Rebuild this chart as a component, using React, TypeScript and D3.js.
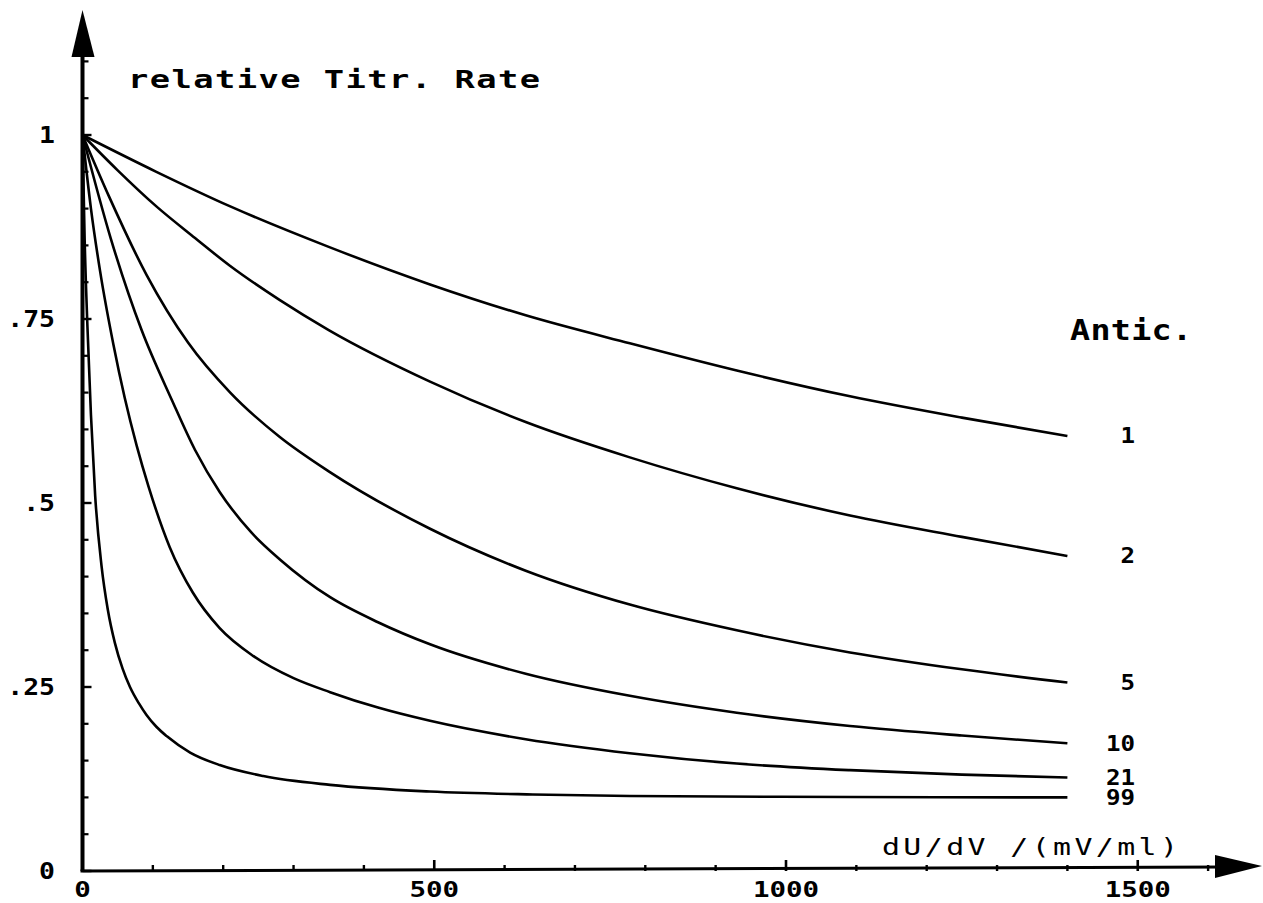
import React from "react";
import * as d3 from "d3";

// Anticipation factors (curve labels)
const anticLabels = ["1", "2", "5", "10", "21", "99"];

// [dU/dV (mV/ml), relative titration rate]
const series1: [number, number][] = [
  [0, 1], [105, 0.95], [210, 0.903], [350, 0.848], [494, 0.797], [630, 0.755], [778, 0.717], [930, 0.68], [1091, 0.645], [1250, 0.616], [1400, 0.591],
];
const series2: [number, number][] = [
  [0, 1], [50, 0.952], [105, 0.903], [160, 0.86], [210, 0.822], [280, 0.776], [350, 0.735], [494, 0.665], [630, 0.61], [778, 0.562], [930, 0.52], [1091, 0.483], [1250, 0.454], [1400, 0.428],
];
const series5: [number, number][] = [
  [0, 1], [37, 0.918], [91, 0.81], [150, 0.718], [210, 0.65], [280, 0.59], [350, 0.543], [494, 0.465], [630, 0.408], [778, 0.362], [930, 0.327], [1091, 0.297], [1250, 0.274], [1400, 0.256],
];
const series10: [number, number][] = [
  [0, 1], [40, 0.86], [84, 0.735], [127, 0.64], [160, 0.572], [195, 0.515], [240, 0.46], [281, 0.423], [352, 0.372], [420, 0.338], [494, 0.308], [630, 0.268], [778, 0.238], [930, 0.215], [1091, 0.197], [1250, 0.184], [1400, 0.1735],
];
const series21: [number, number][] = [
  [0, 1], [12, 0.9], [25, 0.815], [44, 0.715], [60, 0.643], [77, 0.578], [94, 0.522], [124, 0.44], [157, 0.378], [195, 0.33], [243, 0.292], [300, 0.262], [352, 0.243], [420, 0.222], [494, 0.204], [630, 0.179], [778, 0.16], [930, 0.146], [1091, 0.137], [1250, 0.131], [1400, 0.127],
];
const series99: [number, number][] = [
  [0, 1], [3, 0.86], [7, 0.74], [12, 0.62], [18, 0.51], [27, 0.415], [36, 0.355], [46, 0.31], [57, 0.275], [67.5, 0.25], [80, 0.228], [91, 0.212], [105, 0.196], [120, 0.183], [153, 0.161], [195, 0.144], [257, 0.129], [352, 0.117], [494, 0.108], [640, 0.104], [778, 0.102], [1091, 0.1005], [1400, 0.1],
];
const allSeries = [series1, series2, series5, series10, series21, series99];

const xTickValues = [0, 500, 1000, 1500];
const xTickText = ["0", "500", "1000", "1500"];
const xMinorValues = [100, 200, 300, 400, 600, 700, 800, 900, 1100, 1200, 1300, 1400, 1600];
const yTickValues = [0, 0.25, 0.5, 0.75, 1];
const yTickText = ["0", ".25", ".5", ".75", "1"];
const yMinorValues = [0.05, 0.1, 0.15, 0.2, 0.3, 0.35, 0.4, 0.45, 0.55, 0.6, 0.65, 0.7, 0.8, 0.85, 0.9, 0.95, 1.05, 1.1];

const yTitle = "relative Titr. Rate";
const xTitle = "dU/dV /(mV/ml)";
const legendTitle = "Antic.";

const FONT = "'DejaVu Sans Mono', 'Liberation Mono', monospace";

type STextProps = {
  x: number;
  y: number;
  text: string;
  size: number;
  sx?: number;
  anchor?: "start" | "middle" | "end";
  weight?: string;
  length?: number;
  central?: boolean;
};

function SText({ x, y, text, size, sx = 1, anchor = "start", weight = "bold", length, central }: STextProps) {
  return (
    <text
      transform={`translate(${x},${y}) scale(${sx},1)`}
      textAnchor={anchor}
      dominantBaseline={central ? "central" : undefined}
      fontFamily={FONT}
      fontWeight={weight}
      fontSize={size}
      textLength={length ? length / sx : undefined}
      lengthAdjust={length ? "spacing" : undefined}
      xmlSpace="preserve"
    >
      {text}
    </text>
  );
}

export default function App() {
  const W = 1263;
  const H = 903;
  const x = d3.scaleLinear().domain([0, 1500]).range([82.5, 1137.75]);
  const y = d3.scaleLinear().domain([0, 1]).range([871, 135]);
  const line = d3
    .line<[number, number]>()
    .x((d) => x(d[0]))
    .y((d) => y(d[1]))
    .curve(d3.curveMonotoneX);

  const x0 = x(0);
  const y0 = y(0);

  return (
    <svg
      width={W}
      height={H}
      viewBox={`0 0 ${W} ${H}`}
      style={{ position: "absolute", left: 0, top: 0, background: "#fff" }}
    >
      <rect x={0} y={0} width={W} height={H} fill="#fff" />
      {/* curves */}
      <g fill="none" stroke="#000" strokeWidth={2.6} strokeLinejoin="round">
        {allSeries.map((s, i) => (
          <path key={i} d={line(s) || ""} />
        ))}
      </g>

      {/* y axis */}
      <line x1={x0} y1={y0} x2={x0} y2={50} stroke="#000" strokeWidth={4} />
      <polygon points={`${x0},10 ${x0 - 11},57 ${x0 + 12},57`} fill="#000" />
      {yMinorValues.map((v) => (
        <line key={"ym" + v} x1={x0} x2={x0 + 6} y1={y(v)} y2={y(v)} stroke="#000" strokeWidth={2.2} />
      ))}
      {yTickValues.map((v) => (
        <line key={"yM" + v} x1={x0} x2={x0 + 9} y1={y(v)} y2={y(v)} stroke="#000" strokeWidth={2.4} />
      ))}
      {yTickValues.map((v, i) => (
        <SText key={"yl" + v} x={55} y={y(v)} text={yTickText[i]} size={23} sx={1.15} anchor="end" central />
      ))}

      {/* x axis */}
      <line x1={x0 - 2} y1={y0} x2={1225} y2={y0 - 4} stroke="#000" strokeWidth={3} />
      <polygon points={`1262,866 1215,855 1215,878`} fill="#000" />
      {xMinorValues.map((v) => (
        <line key={"xm" + v} x1={x(v)} x2={x(v)} y1={y0} y2={y0 - 6} stroke="#000" strokeWidth={2.4} />
      ))}
      {xTickValues
        .filter((v) => v > 0)
        .map((v) => (
          <line key={"xM" + v} x1={x(v)} x2={x(v)} y1={y0} y2={y0 - 11} stroke="#000" strokeWidth={2.6} />
        ))}
      {xTickValues.map((v, i) => (
        <SText key={"xl" + v} x={x(v)} y={889} text={xTickText[i]} size={22} sx={1.25} anchor="middle" central />
      ))}

      {/* titles */}
      <SText x={128} y={88} text={yTitle} size={25} sx={1.35} length={412} />
      <SText x={882} y={855} text={xTitle} size={23} sx={1.3} length={296} weight="normal" />
      <SText x={1070} y={340} text={legendTitle} size={29} sx={1.15} length={122} />

      {/* curve labels */}
      {allSeries.map((s, i) => {
        const last = s[s.length - 1];
        return (
          <SText
            key={"cl" + i}
            x={1135}
            y={y(last[1])}
            text={anticLabels[i]}
            size={21}
            sx={1.15}
            anchor="end"
            central
          />
        );
      })}
    </svg>
  );
}
